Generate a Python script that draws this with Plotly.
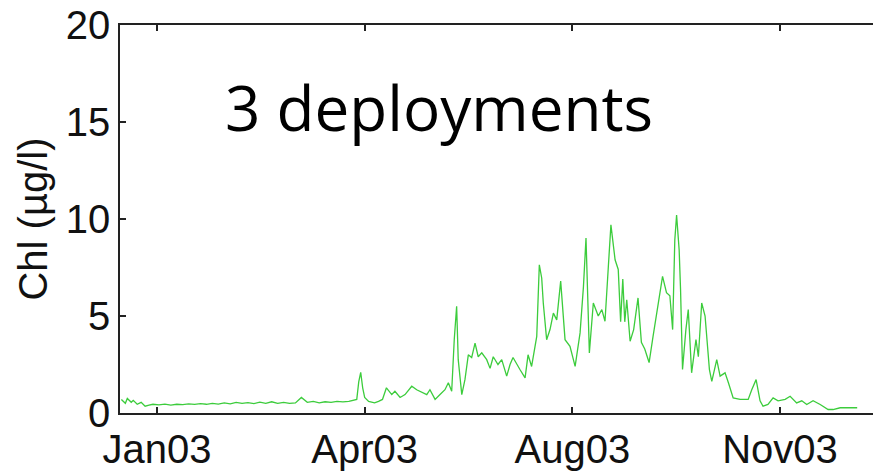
import plotly.graph_objects as go

# Day of year 2003 and chlorophyll (ug/l)
days = [-8, -6, -5, -3, -2, 0, 2, 4, 6, 8, 11, 14, 17, 20, 23, 26, 29, 32, 35, 38,
        41, 44, 47, 50, 53, 56, 59, 62, 65, 68, 71, 74, 77, 80, 83, 86, 89, 92, 95, 98,
        101, 104, 107, 110, 111, 112, 113, 114, 115, 117, 119, 120, 122, 124, 126, 128.7,
        130.3, 132.9, 135.4, 138.8, 141.3, 143.8, 146.4, 148, 150.6, 153.1, 155.6, 157.3,
        159, 160.3, 161.5, 162.3, 164.1, 165.7, 167.4, 169.1, 170.8, 172.4, 174.2, 176.7,
        178.4, 180, 182.4, 184.3, 186.8, 188.5, 190, 193.5, 196.1, 197.6, 199.4, 202,
        203.3, 204.5, 205.3, 207, 208.7, 210.4, 212.1, 214.1, 216.3, 218.8, 221.4, 223.9,
        225.6, 226.9, 228.6, 230.6, 233.1, 234.9, 236.5, 238.2, 239.5, 241.6, 243.2,
        244.4, 245.5, 246.5, 247.5, 249.2, 251, 253.2, 254.9, 256.6, 258.8, 260.8, 263.3,
        265.6, 267.6, 269.3, 270.7, 271.8, 272.7, 274, 274.7, 275.7, 277.4, 278.6, 280.3,
        282.5, 283.7, 285.4, 287.1, 289.3, 290.5, 293, 294.7, 297.2, 298.9, 301.3, 304.8,
        308.9, 310.7, 312.9, 314.9, 316.4, 318.9, 321.5, 324, 327.6, 330.1, 333.4, 336,
        338.5, 341.7, 345.3, 349.3, 351.8, 355.4, 364]
chl = [0.7, 0.5, 0.75, 0.55, 0.65, 0.45, 0.55, 0.35, 0.4, 0.45, 0.42, 0.46, 0.41, 0.45,
       0.43, 0.47, 0.44, 0.48, 0.45, 0.5, 0.46, 0.52, 0.47, 0.55, 0.5, 0.53, 0.48, 0.56,
       0.5, 0.58, 0.5, 0.55, 0.5, 0.52, 0.8, 0.55, 0.6, 0.52, 0.58, 0.55, 0.6, 0.57, 0.6,
       0.65, 0.7, 1.6, 2.1, 1.3, 0.8, 0.6, 0.55, 0.52, 0.6, 0.7, 1.3, 0.95,
       1.12, 0.8, 0.95, 1.38, 1.2, 1.07, 0.95, 1.2, 0.7, 0.95, 1.2, 1.56,
       1.12, 3.8, 5.5, 2.75, 0.95, 1.72, 3.0, 2.86, 3.6, 2.9, 3.1, 2.75,
       2.3, 2.9, 2.5, 2.75, 1.9, 2.5, 2.86, 2.24, 1.81, 3.0, 2.4, 3.95,
       7.64, 6.96, 5.67, 3.78, 4.3, 5.15, 4.8, 6.8, 3.78, 3.44, 2.4, 4.13,
       6.5, 9.02, 3.1, 5.67, 5.0, 5.33, 4.73, 7.55, 9.7, 7.9, 7.4,
       4.7, 6.9, 4.7, 5.84, 3.7, 4.3, 5.93, 3.64, 3.3, 2.6, 3.95, 5.5,
       7.04, 6.2, 6.04, 4.3, 8.93, 10.2, 8.4, 6.36, 2.24, 4.3, 5.33, 2.07,
       3.78, 2.9, 5.67, 5.0, 2.24, 1.63, 2.75, 1.9, 2.07, 1.56, 0.78, 0.7,
       0.7, 1.2, 1.72, 0.63, 0.35, 0.44, 0.78, 0.63, 0.7, 0.86, 0.52, 0.63,
       0.44, 0.63, 0.44, 0.18, 0.18, 0.27, 0.27]

tick_days = [10, 115, 220, 325]
tick_labels = ["Jan03", "Apr03", "Aug03", "Nov03"]
y_ticks = [0, 5, 10, 15, 20]

fig = go.Figure()
fig.add_trace(go.Scatter(x=days, y=chl, mode="lines",
                         line=dict(color="#3ccc3c", width=1.3),
                         showlegend=False, hoverinfo="skip"))

font_axis = dict(family="Liberation Sans, Arial, sans-serif", size=40, color="#111111")
axis_common = dict(showgrid=False, zeroline=False, showline=True, linecolor="#222222",
                   linewidth=1.5, ticks="inside", ticklen=6,
                   tickwidth=1.5, tickcolor="#222222", tickfont=font_axis)

fig.update_xaxes(range=[-8.7, 372], tickmode="array", tickvals=tick_days,
                 ticktext=tick_labels, mirror="ticks", **axis_common)
fig.update_yaxes(range=[0, 20], tickmode="array", tickvals=y_ticks,
                 ticktext=[str(v) for v in y_ticks], mirror=False,
                 title=dict(text="Chl (µg/l)", standoff=6, font=font_axis),
                 **axis_common)

fig.add_annotation(text="3 deployments", xref="paper", yref="paper",
                   x=0.4236, y=0.789, xanchor="center", yanchor="middle",
                   showarrow=False,
                   font=dict(family="Open Sans, sans-serif", size=62, color="#000000"))

fig.update_layout(width=873, height=473, margin=dict(l=120, r=0, t=25, b=60),
                  paper_bgcolor="white", plot_bgcolor="white")

fig.write_html("out.html")
